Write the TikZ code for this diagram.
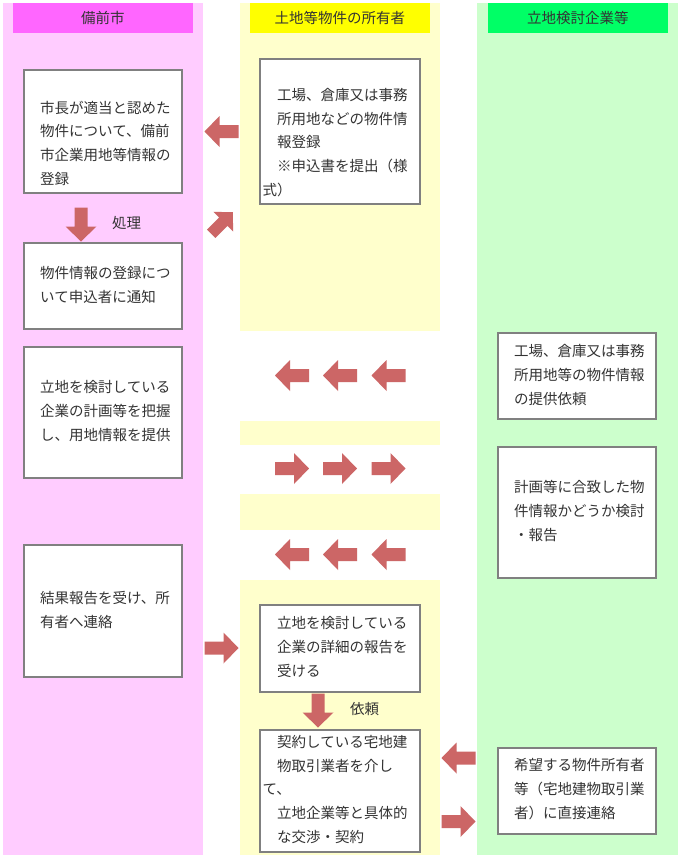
\documentclass[tikz,border=0pt]{standalone}
\usepackage{fontspec}
\setmainfont{Noto Sans CJK JP}
\definecolor{pinkcol}{HTML}{FFCCFF}
\definecolor{pinkhead}{HTML}{FF66FF}
\definecolor{yelcol}{HTML}{FFFFCC}
\definecolor{yelhead}{HTML}{FFFF00}
\definecolor{grncol}{HTML}{CCFFCC}
\definecolor{grnhead}{HTML}{00FF66}
\definecolor{arrowred}{HTML}{CC6666}
\definecolor{boxline}{HTML}{808080}
\definecolor{txtgray}{HTML}{333333}
\tikzset{
  barrow/.pic={\fill[arrowred] (-17,-6.5) -- (2,-6.5) -- (2,-15.5) -- (17,0) -- (2,15.5) -- (2,6.5) -- (-17,6.5) -- cycle;},
  box/.style={draw=boxline, line width=2bp, fill=white, rectangle, inner sep=0pt, outer sep=0pt, anchor=north west},
  txt/.style={anchor=west, align=left, inner sep=0pt, text=txtgray, font=\fontsize{14.5bp}{23.7bp}\selectfont},
  head/.style={rectangle, inner sep=0pt, anchor=north west, minimum width=180, minimum height=30, text=txtgray, font=\fontsize{14.5bp}{17bp}\selectfont}
}
\begin{document}
\begin{tikzpicture}[x=1bp,y=-1bp]
\useasboundingbox (0,0) rectangle (681,859);
\fill[white] (0,0) rectangle (681,859);
% columns
\fill[pinkcol] (3,3) rectangle (203,855);
\fill[grncol] (477,3) rectangle (678,855);
\fill[yelcol] (240,3) rectangle (440,331);
\fill[yelcol] (240,421) rectangle (440,445);
\fill[yelcol] (240,494) rectangle (440,530);
\fill[yelcol] (240,580) rectangle (440,855);
% headers
\node[head, fill=pinkhead] (h1) at (13,3) {備前市};
\node[head, fill=yelhead] (h2) at (250,3) {土地等物件の所有者};
\node[head, fill=grnhead] (h3) at (488,3) {立地検討企業等};
% boxes
\node[box, minimum width=159, minimum height=123] (b1) at (24,70) {};
\node[box, minimum width=159, minimum height=86] (b2) at (24,243) {};
\node[box, minimum width=159, minimum height=131] (b3) at (24,347) {};
\node[box, minimum width=159, minimum height=132] (b4) at (24,545) {};
\node[box, minimum width=161, minimum height=146] (y1) at (260,59) {};
\node[box, minimum width=161, minimum height=87] (y2) at (260,605) {};
\node[box, minimum width=161, minimum height=122] (y3) at (260,730) {};
\node[box, minimum width=159, minimum height=86] (g1) at (498,333) {};
\node[box, minimum width=159, minimum height=131] (g2) at (498,447) {};
\node[box, minimum width=159, minimum height=86] (g3) at (498,748) {};
% texts
\node[txt] (tb1) at (40,143) {市長が適当と認めた\\物件について、備前\\市企業用地等情報の\\登録};
\node[txt] (tb2) at (40,285) {物件情報の登録につ\\いて申込者に通知};
\node[txt] (tb3) at (40,411) {立地を検討している\\企業の計画等を把握\\し、用地情報を提供};
\node[txt] (tb4) at (40,610) {結果報告を受け、所\\有者へ連絡};
\node[txt] (ty1) at (262.5,142.5) {　工場、倉庫又は事務\\　所用地などの物件情\\　報登録\\　※申込書を提出（様\\式）};
\node[txt] (ty2) at (262.5,647) {　立地を検討している\\　企業の詳細の報告を\\　受ける};
\node[txt] (ty3) at (262.5,789.5) {　契約している宅地建\\　物取引業者を介し\\て、\\　立地企業等と具体的\\　な交渉・契約};
\node[txt] (tg1) at (514,375) {工場、倉庫又は事務\\所用地等の物件情報\\の提供依頼};
\node[txt] (tg2) at (514,511) {計画等に合致した物\\件情報かどうか検討\\・報告};
\node[txt] (tg3) at (514,789) {希望する物件所有者\\等（宅地建物取引業\\者）に直接連絡};
\node[txt] (l1) at (112,223) {処理};
\node[txt] (l2) at (350,709) {依頼};
% block arrows
\pic[rotate=180] at (221.5,131.5) {barrow};
\pic[rotate=45, scale=0.9] at (222,223) {barrow};
\pic[rotate=-90] at (81,224.5) {barrow};
\foreach \xx in {292,340,388.5} {
  \pic[rotate=180] at (\xx,375.5) {barrow};
  \pic at (\xx,468.5) {barrow};
  \pic[rotate=180] at (\xx,554.5) {barrow};
}
\pic at (221.5,648) {barrow};
\pic[rotate=-90] at (318,710.5) {barrow};
\pic[rotate=180] at (458.5,758) {barrow};
\pic at (458.5,821.5) {barrow};
\end{tikzpicture}
\end{document}
